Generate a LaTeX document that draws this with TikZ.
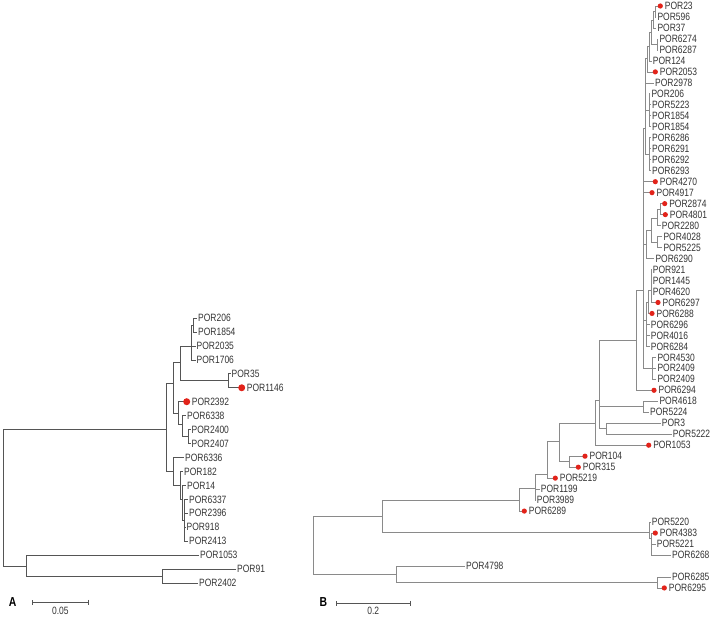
\documentclass[tikz,border=0pt]{standalone}
\usepackage{fontspec}
\setmainfont{Liberation Sans}[FakeStretch=0.8]
\usetikzlibrary{arrows.meta}
\definecolor{DotRed}{HTML}{E2231A}
\definecolor{LineDark}{HTML}{555555}
\definecolor{LineGray}{HTML}{8A8A8A}
\definecolor{TextDark}{HTML}{333333}

\begin{document}
\begin{tikzpicture}[
  x=1pt, y=-1pt,
  declare function={ya(\t)=318+13.95*\t; yb(\t)=6+10.98*\t;},
  leaf/.style={anchor=west, inner sep=1pt, text=TextDark, font=\fontsize{10.6}{12}\selectfont},
  dotA/.style={circle, fill=DotRed, inner sep=0pt, minimum size=7pt},
  dotB/.style={circle, fill=DotRed, inner sep=0pt, minimum size=5.2pt},
  branchA/.style={draw=LineDark, line width=0.7pt},
  branchB/.style={draw=LineGray, line width=0.7pt},
  scalebar/.style={draw=LineDark, line width=0.6pt, {Bar[width=5pt]}-{Bar[width=5pt]}},
  panel/.style={font=\fontsize{13}{15}\selectfont\bfseries, text=black, inner sep=0pt},
  scaletext/.style={font=\fontsize{10.6}{12}\selectfont, text=TextDark, inner sep=0pt}
]
\useasboundingbox (0,0) rectangle (712,616);

% ---- panel A: leaves
\foreach \n/\x/\i in {POR206/197/0, POR1854/197/1, POR2035/195.5/2, POR1706/195.5/3,
    POR35/230.5/4, POR6338/186/7, POR2400/190.5/8, POR2407/190.5/9, POR6336/184/10,
    POR182/183/11, POR14/186/12, POR6337/188/13, POR2396/188/14, POR918/185.5/15,
    POR2413/188/16, POR1053/199/17, POR91/236/18, POR2402/198/19} {
  \coordinate (la\i) at (\x,{ya(\i)});
  \node[leaf] (ta\i) at (la\i) {\n};
}
\foreach \n/\x/\i in {POR1146/241.7/5, POR2392/186.7/6} {
  \coordinate (la\i) at (\x,{ya(\i)});
  \node[leaf] (ta\i) at ([xshift=4pt]la\i) {\n};
}

% ---- panel A: inner nodes
\coordinate (a1) at (193.5,{ya(0.5)});
\coordinate (a2) at (191.7,{ya(2)});
\coordinate (a3) at (228.3,{ya(4.5)});
\coordinate (a4) at (180,{ya(3.2)});
\coordinate (a5) at (188.3,{ya(8.5)});
\coordinate (a6) at (182.7,{ya(7.6)});
\coordinate (a7) at (178.3,{ya(6.8)});
\coordinate (a8) at (173.3,{ya(4.7)});
\coordinate (a9) at (184,{ya(14.5)});
\coordinate (a10) at (182.5,{ya(13)});
\coordinate (a11) at (180,{ya(12)});
\coordinate (a12) at (173.3,{ya(11)});
\coordinate (a13) at (166.7,{ya(8)});
\coordinate (a14) at (162.7,{ya(18.5)});
\coordinate (a15) at (26.7,{ya(17.8)});
\coordinate (ra) at (3,500);

\foreach \p/\c in {a1/la0, a1/la1, a2/a1, a2/la2, a2/la3, a3/la4, a3/la5, a4/a2, a4/a3,
    a5/la8, a5/la9, a6/la7, a6/a5, a7/la6, a7/a6, a8/a4, a8/a7,
    a9/la13, a9/la14, a9/la15, a9/la16, a10/la12, a10/a9, a11/la11, a11/a10,
    a12/la10, a12/a11, a13/a8, a13/a12, a14/la18, a14/la19, a15/la17, a15/a14,
    ra/a13, ra/a15}
  \draw[branchA] (\p) |- (\c);

\foreach \i in {5,6}
  \node[dotA] (da\i) at (la\i) {};

% ---- panel B: leaves
\foreach \n/\x/\i in {POR596/656.3/1, POR37/656.3/2, POR6274/658.3/3, POR6287/658.3/4,
    POR124/651.7/5, POR2978/654/7, POR206/650.3/8, POR5223/651/9, POR1854/651/10,
    POR1854/651/11, POR6286/651/12, POR6291/651/13, POR6292/651/14, POR6293/651/15,
    POR2280/660.7/20, POR4028/662.3/21, POR5225/662.3/22, POR6290/654.3/23,
    POR921/651.7/24, POR1445/651.7/25, POR4620/651.7/26, POR6296/649.7/29,
    POR4016/649.7/30, POR6284/649.7/31, POR4530/656.3/32, POR2409/656.3/33,
    POR2409/656.3/34, POR4618/658.3/36, POR5224/649/37, POR3/660.7/38,
    POR5222/671.7/39, POR1199/539.7/44, POR3989/535.7/45, POR5220/650.7/47,
    POR5221/655.7/49, POR6268/671/50, POR4798/465/51, POR6285/671/52} {
  \coordinate (lb\i) at (\x,{yb(\i)});
  \node[leaf] (tb\i) at (lb\i) {\n};
}
\foreach \n/\x/\i in {POR23/660.3/0, POR2053/655.3/6, POR4270/655.3/16, POR4917/652/17,
    POR2874/664.7/18, POR4801/665.3/19, POR6297/658/27, POR6288/652/28, POR6294/654/35,
    POR1053/648.7/40, POR104/585/41, POR315/578.3/42, POR5219/555.3/43,
    POR6289/524.3/46, POR4383/655.3/48, POR6295/664.3/53} {
  \coordinate (lb\i) at (\x,{yb(\i)});
  \node[leaf] (tb\i) at ([xshift=3.4pt]lb\i) {\n};
}

% ---- panel B: inner nodes
\coordinate (b1) at (655.3,11.5);
\coordinate (b2) at (653.3,20);
\coordinate (b3) at (657.3,{yb(3.5)});
\coordinate (b4) at (651.5,32);
\coordinate (b5) at (649.3,46);
\coordinate (b6) at (647.5,58);
\coordinate (bg1) at (649.3,{yb(9.5)});
\coordinate (bg2) at (649.3,{yb(13.5)});
\coordinate (bu) at (645,128);
\coordinate (c1) at (660,{yb(18.5)});
\coordinate (c2) at (657.3,218);
\coordinate (c3) at (657.3,{yb(21.5)});
\coordinate (c4) at (651.7,230);
\coordinate (c5) at (646.7,244);
\coordinate (d1) at (651,290);
\coordinate (d2) at (648.3,302);
\coordinate (d3) at (646.7,320);
\coordinate (e1) at (652.7,{yb(33)});
\coordinate (bp) at (643.3,290);
\coordinate (bq) at (636,340);
\coordinate (f1) at (643.3,{yb(36.5)});
\coordinate (f2) at (606,{yb(38.5)});
\coordinate (f3) at (599,400);
\coordinate (f4) at (595,423);
\coordinate (g1) at (569,{yb(41.5)});
\coordinate (h0) at (559,441.7);
\coordinate (h1) at (547,474);
\coordinate (h2) at (535.3,488);
\coordinate (h3) at (519,500);
\coordinate (i1) at (651.7,538);
\coordinate (i2) at (649,532);
\coordinate (j1) at (382.3,516);
\coordinate (k1) at (657,{yb(52.5)});
\coordinate (k2) at (396,574);
\coordinate (rb) at (313.3,545);

\foreach \p/\c in {b1/lb0, b1/lb1, b2/b1, b2/lb2, b3/lb3, b3/lb4, b4/b2, b4/b3,
    b5/b4, b5/lb5, b6/b5, b6/lb6, bg1/lb8, bg1/lb9, bg1/lb10, bg1/lb11,
    bg2/lb12, bg2/lb13, bg2/lb14, bg2/lb15, bu/b6, bu/lb7, bu/bg1, bu/bg2,
    c1/lb18, c1/lb19, c2/c1, c2/lb20, c3/lb21, c3/lb22, c4/c2, c4/c3, c5/c4, c5/lb23,
    d1/lb24, d1/lb25, d1/lb26, d1/lb27, d2/d1, d2/lb28, d3/d2, d3/lb29, d3/lb30, d3/lb31,
    e1/lb32, e1/lb33, e1/lb34, bp/bu, bp/lb16, bp/lb17, bp/c5, bp/d3, bp/e1,
    bq/bp, bq/lb35, f1/lb36, f1/lb37, f2/lb38, f2/lb39, f3/bq, f3/f1, f3/f2,
    f4/f3, f4/lb40, g1/lb41, g1/lb42, h0/f4, h0/g1, h1/h0, h1/lb43,
    h2/h1, h2/lb44, h2/lb45, h3/h2, h3/lb46, i1/lb48, i1/lb49, i1/lb50,
    i2/lb47, i2/i1, j1/h3, j1/i2, k1/lb52, k1/lb53, k2/lb51, k2/k1, rb/j1, rb/k2}
  \draw[branchB] (\p) |- (\c);

\foreach \i in {0,6,16,17,18,19,27,28,35,40,41,42,43,46,48,53}
  \node[dotB] (db\i) at (lb\i) {};

% ---- panel labels and scale bars
\node[panel] (pA) at (12.7,602) {A};
\node[panel] (pB) at (323.3,602) {B};

\coordinate (sa1) at (31.7,602.3);
\coordinate (sa2) at (89,602.3);
\draw[scalebar] (sa1) -- (sa2);
\node[scaletext] (saT) at (60.3,611) {0.05};

\coordinate (sb1) at (336,603.3);
\coordinate (sb2) at (410.7,603.3);
\draw[scalebar] (sb1) -- (sb2);
\node[scaletext] (sbT) at (373.3,611) {0.2};
\end{tikzpicture}
\end{document}
